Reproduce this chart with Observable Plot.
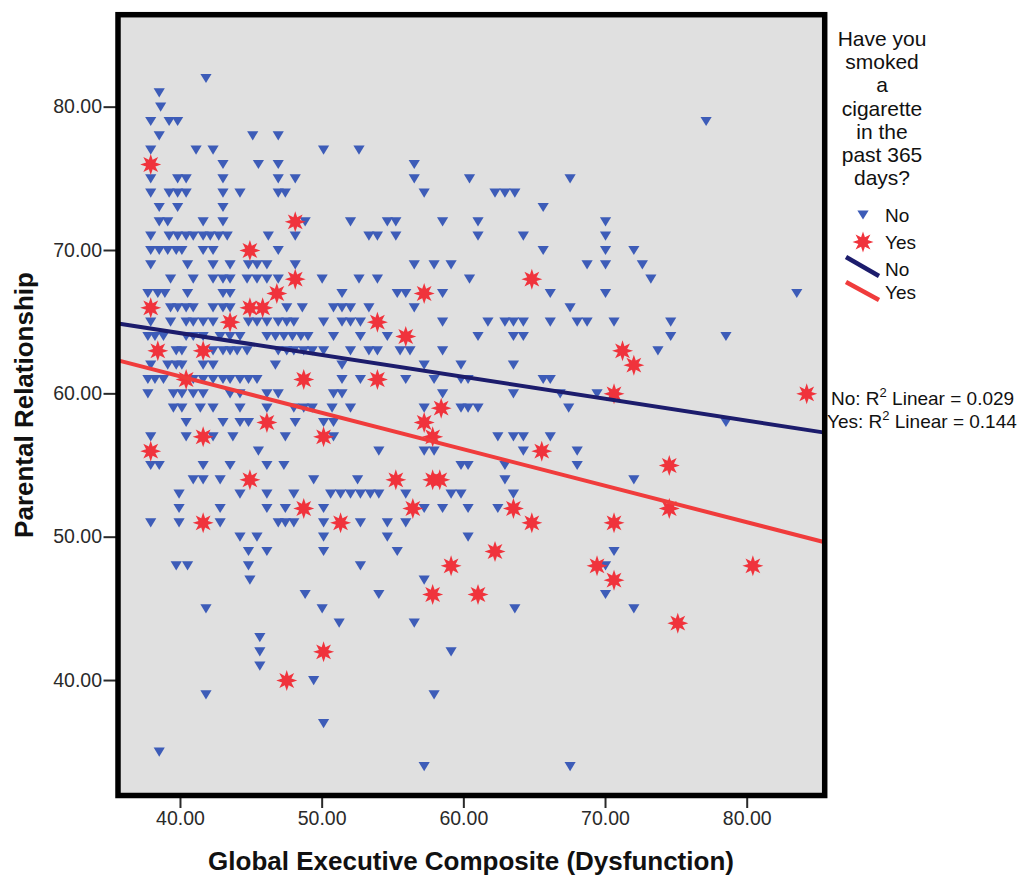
<!DOCTYPE html>
<html><head><meta charset="utf-8">
<script src="https://cdn.jsdelivr.net/npm/d3@7"></script>
<script src="https://cdn.jsdelivr.net/npm/@observablehq/plot@0.6"></script>
<style>
body{margin:0;background:#fff;}
svg text{font-family:"Liberation Sans",Arial,sans-serif;}
</style></head><body><div id="chart"></div>
<script>
// "No" group: rows of [Parental Relationship, [Global Executive Composite values]]
const noRows = [
  [82, [41.8]],
  [81, [38.5]],
  [80, [38.6]],
  [79, [37.9, 39.2, 39.8, 77.1]],
  [78, [38.5, 45.1, 46.9]],
  [77, [37.9, 41.1, 42.3, 50.1, 52.6]],
  [76, [43.0, 45.5, 46.9, 56.5]],
  [75, [37.9, 39.8, 40.4, 43.0, 46.9, 48.1, 56.5, 60.4, 67.5]],
  [74, [37.9, 39.2, 39.8, 40.4, 43.0, 44.2, 46.9, 47.4, 57.2, 62.2, 62.9, 63.6]],
  [73, [38.5, 39.8, 43.0, 65.6]],
  [72, [38.5, 39.1, 41.6, 43.0, 48.8, 52.0, 54.6, 55.2, 58.5, 61.0, 70.0]],
  [71, [37.9, 39.2, 39.8, 40.4, 40.9, 41.6, 42.1, 42.7, 43.3, 46.2, 48.1, 53.3, 53.9, 55.2, 61.0, 64.2, 70.0]],
  [70, [37.9, 38.5, 39.1, 39.7, 40.1, 41.6, 42.3, 46.9, 65.6, 70.0, 72.0]],
  [69, [37.9, 40.5, 42.3, 43.5, 44.8, 45.4, 46.1, 48.1, 56.5, 57.9, 59.1, 68.7, 70.0, 72.6]],
  [68, [39.3, 40.9, 42.3, 43.0, 43.5, 44.7, 45.4, 46.1, 46.9, 50.0, 52.6, 53.9, 60.4, 73.2]],
  [67, [37.7, 38.4, 38.9, 40.5, 43.0, 43.5, 51.4, 55.3, 55.9, 58.5, 66.1, 70.0, 83.5]],
  [66, [39.3, 39.8, 40.4, 40.9, 42.3, 43.0, 43.5, 47.5, 48.6, 50.8, 51.4, 52.0, 53.3, 56.5, 67.5]],
  [65, [37.9, 39.3, 40.4, 40.9, 41.6, 42.3, 44.8, 45.4, 46.1, 46.9, 47.5, 48.0, 50.1, 51.4, 52.0, 52.7, 58.5, 61.7, 62.9, 63.5, 64.2, 66.1, 68.0, 68.7, 70.6, 74.6]],
  [64, [37.7, 38.2, 38.8, 40.4, 40.9, 41.6, 42.8, 43.5, 44.2, 46.1, 46.7, 47.3, 47.9, 48.5, 49.0, 50.8, 52.7, 54.6, 61.0, 63.5, 64.2, 74.6, 78.5]],
  [63, [39.7, 40.1, 42.3, 43.0, 43.5, 44.0, 44.7, 46.9, 47.5, 48.0, 48.7, 49.3, 50.1, 52.0, 53.3, 53.9, 55.5, 56.2, 58.5, 73.7]],
  [62, [37.9, 39.1, 39.7, 40.1, 41.6, 42.3, 46.7, 51.4, 57.2, 59.8, 63.5]],
  [61, [37.7, 38.2, 38.8, 40.9, 41.6, 42.3, 43.0, 43.5, 44.2, 44.8, 45.4, 51.4, 52.7, 55.9, 57.9, 59.8, 60.3, 65.6, 66.1]],
  [60, [37.7, 39.5, 40.1, 40.9, 41.6, 43.5, 44.2, 46.1, 46.9, 50.8, 51.4, 58.5, 63.5, 66.8, 69.4]],
  [59, [39.5, 40.1, 41.4, 42.3, 44.2, 46.1, 48.0, 48.7, 49.3, 50.7, 52.0, 57.2, 59.8, 60.3, 61.0, 67.4]],
  [58, [40.4, 43.0, 44.2, 44.8, 48.1, 50.1, 50.8, 78.5]],
  [57, [37.9, 40.4, 42.3, 43.7, 47.4, 50.8, 62.4, 63.5, 64.2, 66.1]],
  [56, [45.5, 54.0, 57.2, 57.9, 64.2, 68.0]],
  [55, [37.9, 38.5, 41.6, 43.5, 46.1, 47.3, 59.8, 60.3, 62.9, 68.0]],
  [54, [40.9, 41.6, 42.8, 49.4, 52.5, 62.9, 72.0]],
  [53, [39.9, 44.2, 46.1, 48.0, 50.6, 51.3, 52.0, 52.7, 53.4, 54.0, 55.9, 59.1, 59.8, 63.5]],
  [52, [39.9, 42.8, 46.1, 47.4, 50.1, 57.2, 58.5, 60.3, 62.4]],
  [51, [37.9, 39.9, 42.8, 46.9, 47.4, 48.0, 50.1, 52.7, 54.6, 55.9]],
  [50, [44.2, 45.4, 50.1, 54.6, 60.3]],
  [49, [44.8, 46.1, 50.1, 55.3, 70.6]],
  [48, [39.7, 40.5, 44.8, 52.7, 70.0]],
  [47, [44.9, 57.2]],
  [46, [48.8, 54.0, 70.0]],
  [45, [41.8, 50.0, 63.6, 72.0]],
  [44, [51.2, 56.5]],
  [43, [45.6]],
  [42, [45.6, 59.1]],
  [41, [45.6]],
  [40, [49.4]],
  [39, [41.8, 57.9]],
  [37, [50.1]],
  [35, [38.5]],
  [34, [57.2, 67.5]]
];
// "Yes" group
const yesX = [37.9, 48.1, 44.9, 48.1, 46.8, 37.9, 44.9, 45.8, 43.5, 53.9, 55.9, 57.2, 64.8, 38.4, 41.6, 71.2, 72.0, 40.4, 48.7, 53.9, 70.6, 84.2, 58.4, 46.1, 57.2, 41.6, 50.1, 57.8, 37.9, 65.5, 44.9, 55.2, 57.8, 58.3, 74.5, 48.7, 56.4, 63.5, 74.5, 41.6, 51.3, 64.8, 70.6, 62.2, 59.1, 69.4, 80.4, 70.6, 57.8, 61.0, 75.1, 50.1, 47.5];
const yesY = [76, 72, 70, 68, 67, 66, 66, 66, 65, 65, 64, 67, 68, 63, 63, 63, 62, 61, 61, 61, 60, 60, 59, 58, 58, 57, 57, 57, 56, 56, 54, 54, 54, 54, 55, 52, 52, 52, 52, 51, 51, 51, 51, 49, 48, 48, 48, 47, 46, 46, 44, 42, 40];

const groups = ["No", "Yes"];
const fitIntercept = [70.33, 71.39];
const fitSlope = [-0.1525, -0.2544];
const r2Values = ["0.029", "0.144"];
const xTicks = [40, 50, 60, 70, 80];
const yTicks = [40, 50, 60, 70, 80];
const xDomain = [35.59, 85.47];
const yDomain = [31.98, 86.45];
const legendTitle = ["Have you", "smoked", "a", "cigarette", "in the", "past 365", "days?"];
const xLabel = "Global Executive Composite (Dysfunction)";
const yLabel = "Parental Relationship";

const colNoPt = "#3d5cb8", colYesPt = "#f0333c", colNoLine = "#1c1c6c", colYesLine = "#f03c3c";

const noData = noRows.flatMap(([y, xs]) => xs.map(x => ({x, y})));
const yesData = yesX.map((x, i) => ({x, y: yesY[i]}));
const lineData = groups.flatMap((g, i) => xDomain.map(x => ({x, y: fitIntercept[i] + fitSlope[i] * x, g})));

const triDown = {draw(ctx, size) {
  const r = Math.sqrt(size / Math.PI), h = r * 0.82;
  ctx.moveTo(-r, -h); ctx.lineTo(r, -h); ctx.lineTo(0, h); ctx.closePath();
}};
const star8 = {draw(ctx, size) {
  const R = Math.sqrt(size / Math.PI), ri = R * 0.48;
  for (let k = 0; k < 16; k++) {
    const a = k * Math.PI / 8 - Math.PI / 2, rr = k % 2 ? ri : R;
    const px = rr * Math.cos(a), py = rr * Math.sin(a);
    if (k) ctx.lineTo(px, py); else ctx.moveTo(px, py);
  }
  ctx.closePath();
}};

const fmt = d => d.toFixed(2);
const plot = Plot.plot({
  width: 1026, height: 878,
  marginLeft: 117.5, marginRight: 201.8, marginTop: 14.2, marginBottom: 83,
  x: {domain: xDomain},
  y: {domain: yDomain},
  color: {domain: groups, range: [colNoLine, colYesLine]},
  style: {fontFamily: "'Liberation Sans', Arial, sans-serif", fontSize: "19.5px", color: "#2a2a2a", background: "#fff"},
  marks: [
    Plot.frame({fill: "#e0e0e0"}),
    Plot.axisX({ticks: xTicks, tickFormat: fmt, tickSize: 13, tickPadding: 3, strokeWidth: 2, label: null}),
    Plot.axisY({ticks: yTicks, tickFormat: fmt, tickSize: 14, tickPadding: 2, strokeWidth: 2, label: null}),
    Plot.dot(noData, {x: "x", y: "y", symbol: triDown, r: 5.6, fill: colNoPt}),
    Plot.dot(yesData, {x: "x", y: "y", symbol: star8, r: 10.5, fill: colYesPt}),
    Plot.line(lineData, {x: "x", y: "y", z: "g", stroke: "g", strokeWidth: 4}),
    Plot.frame({stroke: "#000", strokeWidth: 5.5})
  ]
});
document.getElementById("chart").appendChild(plot);

const svg = d3.select(plot);
svg.append("text").attr("x", 471).attr("y", 870).attr("text-anchor", "middle")
  .attr("font-weight", "bold").attr("font-size", 26).attr("fill", "#111").text(xLabel);
svg.append("text").attr("transform", "translate(33,405) rotate(-90)").attr("text-anchor", "middle")
  .attr("font-weight", "bold").attr("font-size", 26).attr("fill", "#111").text(yLabel);

const lg = svg.append("g").attr("fill", "#111").attr("text-anchor", "start");
legendTitle.forEach((t, i) => lg.append("text").attr("x", 882).attr("y", 46 + i * 23.2)
  .attr("text-anchor", "middle").attr("font-size", 21).text(t));
lg.append("path").attr("transform", "translate(863,215)").attr("fill", colNoPt)
  .attr("d", d3.symbol(triDown, 5.6 * 5.6 * Math.PI)());
lg.append("path").attr("transform", "translate(863,242)").attr("fill", colYesPt)
  .attr("d", d3.symbol(star8, 10.5 * 10.5 * Math.PI)());
lg.append("line").attr("x1", 846).attr("y1", 257).attr("x2", 879).attr("y2", 276)
  .attr("stroke", colNoLine).attr("stroke-width", 4.5);
lg.append("line").attr("x1", 846).attr("y1", 282).attr("x2", 879).attr("y2", 300)
  .attr("stroke", colYesLine).attr("stroke-width", 4.5);
[["No", 222], ["Yes", 249], ["No", 276], ["Yes", 299]].forEach(([t, y]) =>
  lg.append("text").attr("x", 885).attr("y", y).attr("text-anchor", "start").attr("font-size", 19).text(t));
groups.forEach((g, i) => {
  const t = lg.append("text").attr("x", i ? 827 : 831).attr("y", i ? 428 : 405)
    .attr("text-anchor", "start").attr("font-size", 19);
  t.append("tspan").text(g + ": R");
  t.append("tspan").attr("dy", -8).attr("font-size", 13).text("2");
  t.append("tspan").attr("dy", 8).text(" Linear = " + r2Values[i]);
});
</script></body></html>
